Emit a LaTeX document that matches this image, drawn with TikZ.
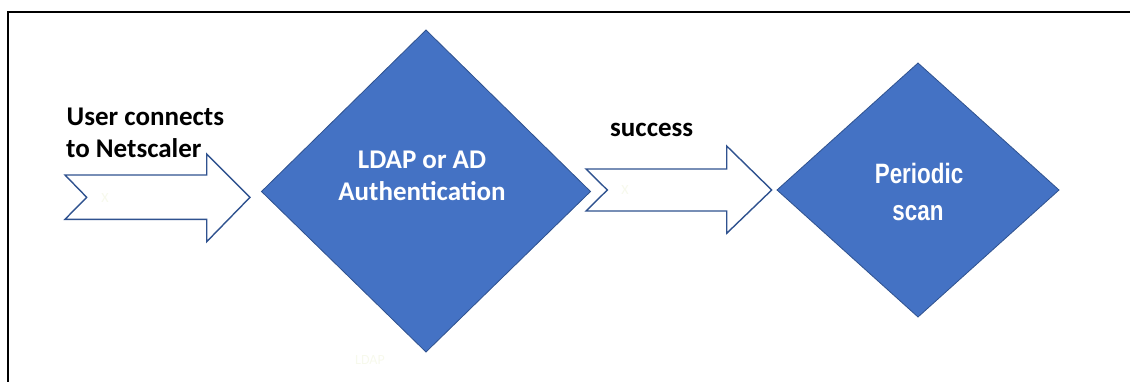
\documentclass[tikz,border=0pt]{standalone}
\usepackage{fontspec}
\setmainfont{Carlito}
\newfontfamily\arialfont{Liberation Sans}
\definecolor{dfill}{HTML}{4472C4}
\definecolor{dline}{HTML}{2F528F}
\definecolor{faint}{HTML}{F7F9EC}
\begin{document}
\begin{tikzpicture}[x=1pt,y=-1pt,
  decision/.style={fill=dfill,draw=dline,line width=0.8pt,line join=miter},
  blockarrow/.style={draw=dline,line width=1.4pt,fill=white,line join=miter},
  frameline/.style={draw=black,line width=2pt},
  bigtext/.style={font=\fontsize{27}{32}\selectfont\bfseries,inner sep=0pt},
  whitetext/.style={bigtext,text=white},
  ghost/.style={font=\fontsize{14}{16}\selectfont,text=faint,inner sep=0pt}]
\useasboundingbox (0,0) rectangle (1130,381);
% frame
\draw[frameline] (7.5,382) -- (7.5,12) -- (1131,12);
% diamond 1
\coordinate (d1t) at (426,30);
\coordinate (d1r) at (590.5,191.5);
\coordinate (d1b) at (426,352);
\coordinate (d1l) at (261.5,191.5);
\path[decision] (d1t) -- (d1r) -- (d1b) -- (d1l) -- cycle;
\node[whitetext,anchor=base] (auth1) at (422,168) {LDAP or AD};
\node[whitetext,anchor=base] (auth2) at (422,200) {Authentication};
% diamond 2
\coordinate (d2t) at (918,63);
\coordinate (d2r) at (1059,190);
\coordinate (d2b) at (918,317);
\coordinate (d2l) at (777,190);
\path[decision] (d2t) -- (d2r) -- (d2b) -- (d2l) -- cycle;
\node[whitetext,anchor=base,font=\arialfont\fontsize{28}{32}\selectfont\bfseries] (scan1) at (919,183) {\scalebox{0.8}[1]{Periodic}};
\node[whitetext,anchor=base,font=\arialfont\fontsize{28}{32}\selectfont\bfseries] (scan2) at (918,220) {\scalebox{0.8}[1]{scan}};
% block arrow 1
\path[blockarrow] (65,175) -- (206.7,175) -- (206.7,154) -- (250,197.3) -- (206.7,241.7) -- (206.7,219.3) -- (65,219.3) -- (86.7,197.3) -- cycle;
% block arrow 2
\path[blockarrow] (586,169) -- (726.7,169) -- (726.7,146) -- (771.7,190) -- (726.7,233.3) -- (726.7,211) -- (586,211) -- (607.3,190) -- cycle;
% labels
\node[bigtext,anchor=base west] (user1) at (66.5,125) {User connects};
\node[bigtext,anchor=base west] (user2) at (66,157) {to Netscaler};
\node[bigtext,anchor=base west] (succ) at (610,136.7) {success};
% faint leftovers
\node[ghost] (gx1) at (105,198) {X};
\node[ghost] (gx2) at (625,190) {X};
\node[ghost,anchor=base west] (gl) at (355,364) {LDAP};
\end{tikzpicture}
\end{document}
